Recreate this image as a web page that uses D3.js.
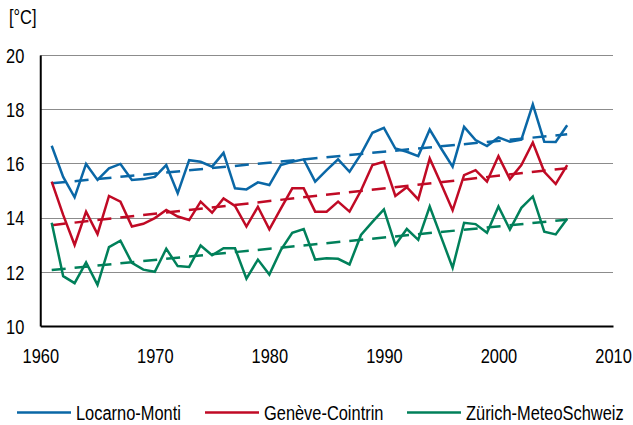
<!DOCTYPE html>
<html>
<head>
<meta charset="utf-8">
<script src="https://cdn.jsdelivr.net/npm/d3@7"></script>
<style>
  body { margin: 0; background: #fff; }
  text { font-family: "Liberation Sans", Arial, sans-serif; fill: #000; }
</style>
</head>
<body>
<svg id="chart" width="633" height="425"></svg>
<script>
const years = [1961, 1962, 1963, 1964, 1965, 1966, 1967, 1968, 1969, 1970,
  1971, 1972, 1973, 1974, 1975, 1976, 1977, 1978, 1979, 1980,
  1981, 1982, 1983, 1984, 1985, 1986, 1987, 1988, 1989, 1990,
  1991, 1992, 1993, 1994, 1995, 1996, 1997, 1998, 1999, 2000,
  2001, 2002, 2003, 2004, 2005, 2006];

const locarno = [16.65, 15.5, 14.75, 15.98, 15.39, 15.82, 15.98, 15.39, 15.42, 15.5,
  15.94, 14.9, 16.12, 16.06, 15.88, 16.39, 15.08, 15.04, 15.3, 15.2,
  15.94, 16.06, 16.15, 15.33, 15.75, 16.15, 15.69, 16.34, 17.13, 17.31,
  16.55, 16.43, 16.27, 17.25, 16.55, 15.88, 17.35, 16.86, 16.64, 16.96,
  16.8, 16.88, 18.18, 16.8, 16.79, 17.41];

const geneve = [15.33, 14.1, 12.99, 14.22, 13.39, 14.8, 14.59, 13.67, 13.77, 13.98,
  14.28, 14.04, 13.91, 14.59, 14.18, 14.71, 14.43, 13.67, 14.4, 13.57,
  14.33, 15.08, 15.08, 14.22, 14.22, 14.59, 14.22, 15.0, 15.94, 16.06,
  14.8, 15.12, 14.67, 16.18, 15.24, 14.27, 15.57, 15.75, 15.33, 16.27,
  15.42, 15.94, 16.77, 15.69, 15.24, 15.94];

const zurich = [13.81, 11.84, 11.58, 12.35, 11.52, 12.91, 13.15, 12.33, 12.08, 12.0,
  12.85, 12.21, 12.18, 12.97, 12.61, 12.87, 12.87, 11.75, 12.45, 11.9,
  12.8, 13.44, 13.58, 12.45, 12.5, 12.48, 12.27, 13.36, 13.84, 14.3,
  12.99, 13.58, 13.18, 14.41, 13.28, 12.15, 13.81, 13.76, 13.44, 14.41,
  13.56, 14.36, 14.78, 13.48, 13.38, 13.96];

const seriesNames = ["Locarno-Monti", "Genève-Cointrin", "Zürich-MeteoSchweiz"];
const seriesColors = ["#0a67a6", "#c00a25", "#00805a"];
const xTicks = [1960, 1970, 1980, 1990, 2000, 2010];
const yTicks = [10, 12, 14, 16, 18, 20];
const unitLabel = "[°C]";

const svg = d3.select("#chart");
const x = d3.scaleLinear().domain([1960, 2010]).range([40.25, 613]);
const y = d3.scaleLinear().domain([10, 20]).range([326, 55]);

// no narrow font installed: squeeze regular glyphs to ~82% width
function narrow(sel) {
  sel.each(function () {
    const w = this.getComputedTextLength();
    d3.select(this)
      .attr("textLength", w * 0.82)
      .attr("lengthAdjust", "spacingAndGlyphs");
  });
}

// gridlines
svg.append("g")
  .selectAll("line")
  .data(yTicks.filter(d => d > 10))
  .join("line")
  .attr("x1", x(1960))
  .attr("x2", x(2010))
  .attr("y1", d => Math.round(y(d)) + 0.5)
  .attr("y2", d => Math.round(y(d)) + 0.5)
  .attr("stroke", "#8c8c8c")
  .attr("stroke-width", 1);

// axes
const yAxis = svg.append("g")
  .attr("transform", `translate(${x(1960)},0)`)
  .call(d3.axisLeft(y).tickValues(yTicks).tickSize(0).tickPadding(16));
yAxis.select(".domain").attr("stroke", "#000").attr("stroke-width", 2);
yAxis.selectAll("text")
  .attr("font-family", null)
  .style("font-size", "20px")
  .attr("fill", "#000")
  .attr("dy", "0.36em")
  .call(narrow);

const xAxis = svg.append("g")
  .attr("transform", `translate(0,${y(10)})`)
  .call(d3.axisBottom(x).tickValues(xTicks).tickFormat(d3.format("d")).tickSize(0).tickPadding(23));
xAxis.select(".domain").attr("stroke", "#000").attr("stroke-width", 2);
xAxis.selectAll("text")
  .style("font-size", "20px")
  .attr("fill", "#000")
  .call(narrow);
svg.selectAll(".tick text").attr("font-family", null);

svg.append("text")
  .attr("x", 9)
  .attr("y", 24)
  .style("font-size", "20px")
  .text(unitLabel)
  .call(narrow);

const allSeries = [locarno, geneve, zurich];

const line = d3.line()
  .x(d => x(d[0]))
  .y(d => y(d[1]));

allSeries.forEach((vals, i) => {
  const pts = years.map((yr, j) => [yr, vals[j]]);
  // linear trend (least squares)
  const mx = d3.mean(years), my = d3.mean(vals);
  const slope = d3.sum(pts, p => (p[0] - mx) * (p[1] - my)) / d3.sum(pts, p => (p[0] - mx) ** 2);
  const trend = [years[0], years[years.length - 1]].map(yr => [yr, my + slope * (yr - mx)]);

  svg.append("path")
    .datum(pts)
    .attr("fill", "none")
    .attr("stroke", seriesColors[i])
    .attr("stroke-width", 2.5)
    .attr("stroke-linejoin", "miter")
    .attr("d", line);

  svg.append("path")
    .datum(trend)
    .attr("fill", "none")
    .attr("stroke", seriesColors[i])
    .attr("stroke-width", 2.5)
    .attr("stroke-dasharray", "14,9")
    .attr("d", line);
});

// legend
const legendX = [17, 205, 407];
const legend = svg.append("g");
seriesNames.forEach((name, i) => {
  legend.append("line")
    .attr("x1", legendX[i]).attr("x2", legendX[i] + 54)
    .attr("y1", 412.5).attr("y2", 412.5)
    .attr("stroke", seriesColors[i])
    .attr("stroke-width", 2.5);
  legend.append("text")
    .attr("x", legendX[i] + 59)
    .attr("y", 419.5)
    .style("font-size", "20px")
    .text(name)
    .call(narrow);
});
</script>
</body>
</html>
